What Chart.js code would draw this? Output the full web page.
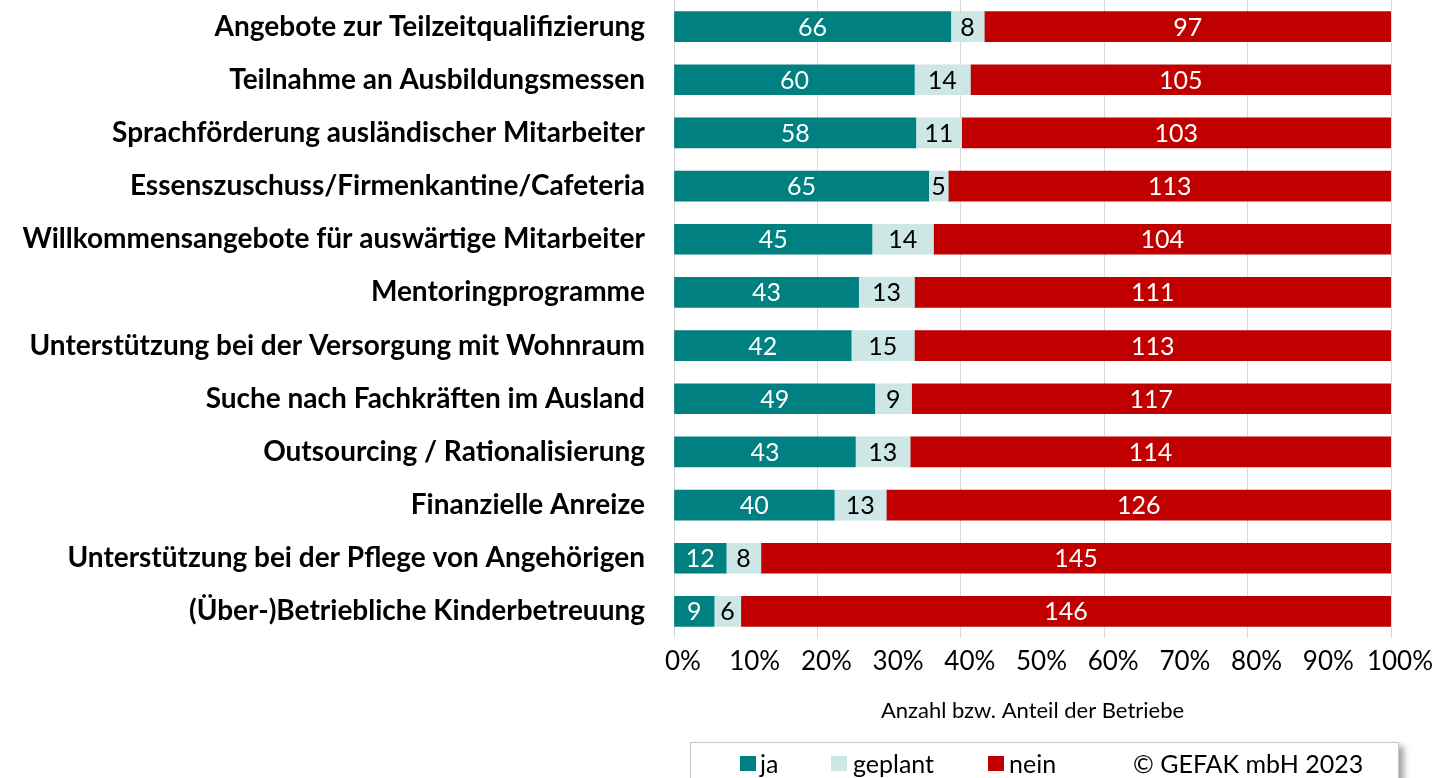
<!DOCTYPE html>
<html lang="de">
<head>
<meta charset="utf-8">
<title>Maßnahmen der Betriebe</title>
<script src="https://cdn.jsdelivr.net/npm/chart.js@4.4.1/dist/chart.umd.min.js"></script>
<style>
  html, body { margin: 0; padding: 0; background: #fff; }
  #wrap { position: relative; width: 1438px; height: 778px; overflow: hidden; }
  #legend {
    position: absolute; left: 690px; top: 742px; width: 707px; height: 50px;
    border: 1px solid #c8c8c8; background: #fff;
    box-shadow: 5px 4px 6px rgba(0, 0, 0, 0.35);
    font-family: Lato, sans-serif; font-size: 25px; color: #000;
  }
  #legend .sq { position: absolute; top: 13px; width: 16px; height: 15px; }
  #legend .txt { position: absolute; top: 3px; height: 34px; line-height: 34px; white-space: nowrap; }
</style>
</head>
<body>
<div id="wrap">
  <canvas id="chart" width="1438" height="778"></canvas>
  <div id="legend">
    <div class="sq" style="left:49px;background:#008080"></div><div class="txt" style="left:69px">ja</div>
    <div class="sq" style="left:140px;background:#cde6e6"></div><div class="txt" style="left:162px">geplant</div>
    <div class="sq" style="left:297px;background:#c00000"></div><div class="txt" style="left:318px">nein</div>
    <div class="txt" style="left:442px">© GEFAK mbH 2023</div>
  </div>
</div>

<script>
// Angebote / Maßnahmen
const categories = [
  'Angebote zur Teilzeitqualifizierung',
  'Teilnahme an Ausbildungsmessen',
  'Sprachförderung ausländischer Mitarbeiter',
  'Essenszuschuss/Firmenkantine/Cafeteria',
  'Willkommensangebote für auswärtige Mitarbeiter',
  'Mentoringprogramme',
  'Unterstützung bei der Versorgung mit Wohnraum',
  'Suche nach Fachkräften im Ausland',
  'Outsourcing / Rationalisierung',
  'Finanzielle Anreize',
  'Unterstützung bei der Pflege von Angehörigen',
  '(Über-)Betriebliche Kinderbetreuung'
];

// Anzahl der Betriebe
const ja      = [66, 60, 58, 65, 45, 43, 42, 49, 43, 40, 12, 9];
const geplant = [8, 14, 11, 5, 14, 13, 15, 9, 13, 13, 8, 6];
const nein    = [97, 105, 103, 113, 104, 111, 113, 117, 114, 126, 145, 146];

const xTicks = [0, 10, 20, 30, 40, 50, 60, 70, 80, 90, 100];

// share of each row total, in percent
function share(arr) {
  return arr.map((v, i) => v / (ja[i] + geplant[i] + nein[i]) * 100);
}

// draws the counts inside the bars
const valueLabels = {
  id: 'valueLabels',
  afterDatasetsDraw(chart) {
    const ctx = chart.ctx;
    ctx.save();
    ctx.font = '25px Lato';
    ctx.textAlign = 'center';
    ctx.textBaseline = 'middle';
    chart.data.datasets.forEach((ds, i) => {
      const meta = chart.getDatasetMeta(i);
      meta.data.forEach((bar, j) => {
        ctx.fillStyle = ds.labelColor;
        ctx.fillText(ds.counts[j], (bar.x + bar.base) / 2, bar.y + 1);
      });
    });
    ctx.restore();
  }
};

const ctx = document.getElementById('chart');

new Chart(ctx, {
  type: 'bar',
  data: {
    labels: categories,
    datasets: [
      { label: 'ja', data: share(ja), counts: ja, backgroundColor: '#008080', labelColor: '#fff' },
      { label: 'geplant', data: share(geplant), counts: geplant, backgroundColor: '#cde6e6', labelColor: '#000' },
      { label: 'nein', data: share(nein), counts: nein, backgroundColor: '#c00000', labelColor: '#fff' }
    ]
  },
  options: {
    indexAxis: 'y',
    responsive: false,
    animation: false,
    barThickness: 30,
    layout: { padding: { top: 0, right: 47, bottom: 54, left: 0 } },
    plugins: {
      legend: { display: false },
      tooltip: { enabled: false }
    },
    scales: {
      x: {
        stacked: true,
        min: 0,
        max: 100,
        afterBuildTicks: (scale) => { scale.ticks = xTicks.map(v => ({ value: v })); },
        afterFit: (scale) => { scale.height = 86; },
        border: { display: false },
        grid: {
          drawTicks: false,
          color: (c) => (c.tick && c.tick.value % 20 === 0) ? '#d9d9d9' : 'rgba(0,0,0,0)',
          lineWidth: 1
        },
        ticks: {
          padding: 8,
          labelOffset: 9,
          maxRotation: 0,
          autoSkip: false,
          color: '#000',
          font: { family: 'Lato', size: 26 },
          callback: (v) => v + '%'
        },
        title: {
          display: true,
          text: 'Anzahl bzw. Anteil der Betriebe',
          color: '#000',
          font: { family: 'Lato', size: 22 },
          padding: { top: 0, bottom: 0 }
        }
      },
      y: {
        stacked: true,
        afterFit: (scale) => {
          scale.width = 674;
          scale.paddingTop = 0;
          scale.paddingBottom = 0;
        },
        border: { display: false },
        grid: { display: false, drawTicks: false },
        ticks: {
          padding: 29,
          color: '#000',
          font: { family: 'Lato', size: 28, weight: 'bold' }
        }
      }
    }
  },
  plugins: [valueLabels]
});
</script>
</body>
</html>
